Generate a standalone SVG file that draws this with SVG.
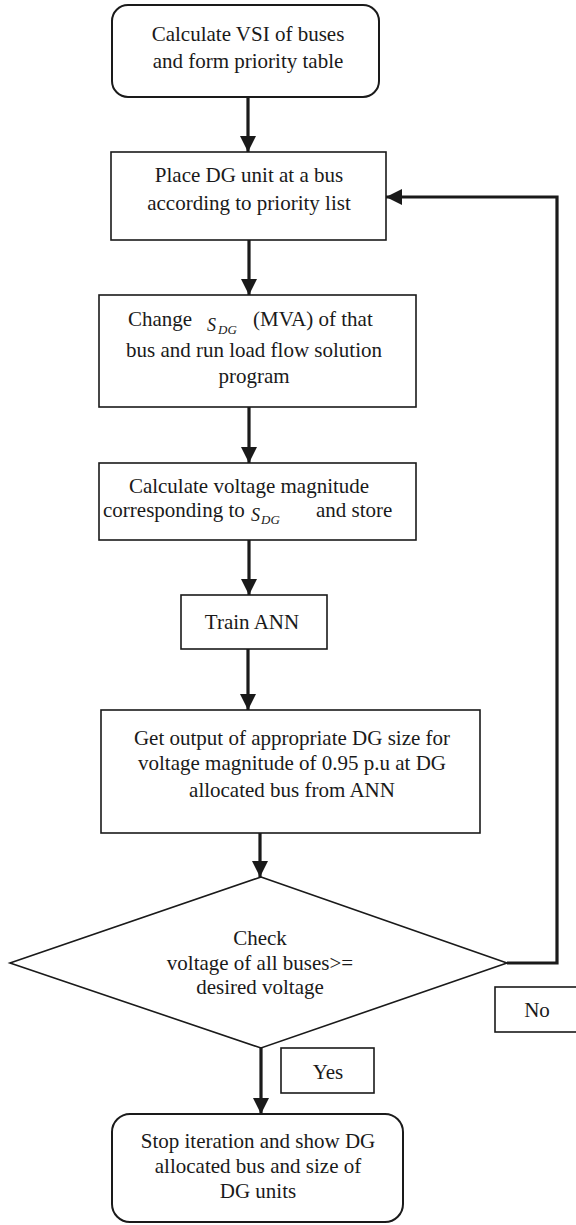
<svg xmlns="http://www.w3.org/2000/svg" width="576" height="1225" viewBox="0 0 576 1225">
<defs>
<style>
.box{fill:#fff;stroke:#1a1a1a;stroke-width:1.6}
.rbox{fill:#fff;stroke:#1a1a1a;stroke-width:2}
.t{font-size:21px;fill:#1a1a1a}
.c{text-anchor:middle}
.m{font-style:italic;fill:#1a1a1a}
.conn{fill:none;stroke:#1a1a1a;stroke-width:3.2}
</style>
<marker id="arr" markerUnits="userSpaceOnUse" markerWidth="18" markerHeight="18" refX="16" refY="8" orient="auto">
<path d="M0,0 L16,8 L0,16 z" fill="#1a1a1a"/>
</marker>
</defs>
<rect width="576" height="1225" fill="#fff"/>
<g id="connectors">
<path class="conn" d="M248,97 V152" marker-end="url(#arr)"/>
<path class="conn" d="M249,240 V295" marker-end="url(#arr)"/>
<path class="conn" d="M249,407 V463" marker-end="url(#arr)"/>
<path class="conn" d="M249,540 V595" marker-end="url(#arr)"/>
<path class="conn" d="M248,649 V710" marker-end="url(#arr)"/>
<path class="conn" d="M260,833 V877" marker-end="url(#arr)"/>
<path class="conn" d="M261,1048 V1114" marker-end="url(#arr)"/>
<path class="conn" d="M507,963 H557 V197 H386" marker-end="url(#arr)"/>
</g>
<g font-family="Liberation Serif, Times New Roman, serif">
<g id="start">
<rect class="rbox" x="112" y="5" width="267" height="92" rx="16"/>
<text class="t c" x="248" y="41">Calculate VSI of buses</text>
<text class="t c" x="248" y="68">and form priority table</text>
</g>
<g id="place">
<rect class="box" x="111" y="152" width="275" height="88"/>
<text class="t c" x="249" y="182">Place DG unit at a bus</text>
<text class="t c" x="249" y="210">according to priority list</text>
</g>
<g id="change">
<rect class="box" x="99" y="295" width="317" height="112"/>
<text class="t" x="128" y="326">Change</text>
<text class="m" x="207" y="331" font-size="18">S</text>
<text class="m" x="218" y="334" font-size="13">DG</text>
<text class="t" x="253" y="326">(MVA) of that</text>
<text class="t c" x="254" y="357">bus and run load flow solution</text>
<text class="t c" x="254" y="383">program</text>
</g>
<g id="calcv">
<rect class="box" x="99" y="463" width="317" height="77"/>
<text class="t c" x="249" y="493">Calculate voltage magnitude</text>
<text class="t" x="103" y="517">corresponding to</text>
<text class="m" x="251" y="521" font-size="18">S</text>
<text class="m" x="261" y="524" font-size="13">DG</text>
<text class="t" x="316" y="517">and store</text>
</g>
<g id="train">
<rect class="box" x="181" y="595" width="146" height="54"/>
<text class="t c" x="252" y="629">Train ANN</text>
</g>
<g id="output">
<rect class="box" x="101" y="710" width="379" height="123"/>
<text class="t c" x="292" y="745">Get output of appropriate DG size for</text>
<text class="t c" x="292" y="770">voltage magnitude of 0.95 p.u at DG</text>
<text class="t c" x="292" y="797">allocated bus from ANN</text>
</g>
<g id="check">
<polygon class="box" points="261,877 507,963 261,1048 10,963"/>
<text class="t c" x="260" y="945">Check</text>
<text class="t c" x="260" y="970">voltage of all buses&gt;=</text>
<text class="t c" x="260" y="994">desired voltage</text>
</g>
<g id="no">
<rect class="box" x="495" y="987" width="90" height="45"/>
<text class="t c" x="537" y="1017">No</text>
</g>
<g id="yes">
<rect class="box" x="281" y="1048" width="93" height="45"/>
<text class="t c" x="328" y="1079">Yes</text>
</g>
<g id="stop">
<rect class="rbox" x="112" y="1114" width="291" height="108" rx="18"/>
<text class="t c" x="258" y="1148">Stop iteration and show DG</text>
<text class="t c" x="258" y="1173">allocated bus and size of</text>
<text class="t c" x="258" y="1198">DG units</text>
</g>
</g>
</svg>
